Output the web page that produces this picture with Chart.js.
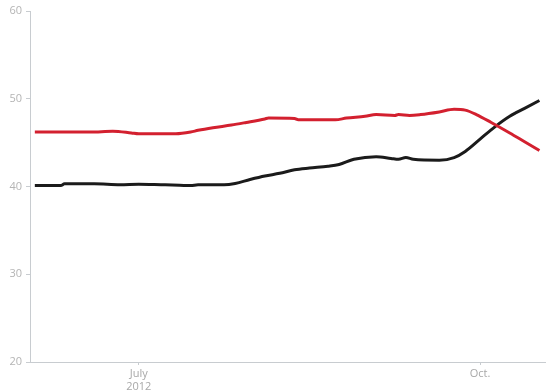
<!DOCTYPE html>
<html>
<head>
<meta charset="utf-8">
<script src="https://cdn.jsdelivr.net/npm/chart.js@4"></script>
<style>
  body { margin: 0; background: #fff; }
  #wrap { width: 550px; height: 390px; position: relative; }
</style>
</head>
<body>
<div id="wrap"><canvas id="pollChart"></canvas></div>
<script>
// days counted from June 1, 2012 (day 0)
const redDays = [2, 17, 23, 28, 30, 40, 44, 46, 50, 55, 59, 64, 65, 72, 73, 83, 86, 91, 94, 99, 100, 103, 106, 111, 115, 118, 121, 125, 130, 134, 138];
const redValues = [46.2, 46.2, 46.3, 46.1, 46.0, 46.0, 46.2, 46.4, 46.7, 47.0, 47.3, 47.7, 47.8, 47.75, 47.6, 47.6, 47.8, 48.0, 48.2, 48.1, 48.2, 48.1, 48.2, 48.5, 48.8, 48.7, 48.2, 47.3, 46.1, 45.1, 44.1];

const blackDays = [2, 9, 10, 18, 25, 30, 36, 41, 44, 46, 53, 56, 60, 64, 68, 72, 76, 81, 84, 88, 94, 98, 100, 102, 104, 111, 115, 118, 122, 126, 130, 134, 138];
const blackValues = [40.1, 40.1, 40.3, 40.3, 40.2, 40.25, 40.2, 40.15, 40.1, 40.2, 40.2, 40.35, 40.8, 41.2, 41.5, 41.9, 42.1, 42.3, 42.5, 43.1, 43.4, 43.2, 43.1, 43.3, 43.1, 43.0, 43.3, 44.0, 45.4, 46.8, 48.0, 48.9, 49.8];

const tickDays = [30, 122];
const tickLabels = [['July', '2012'], 'Oct.'];
const yTicks = [20, 30, 40, 50, 60];

const toPoints = (days, vals) => days.map((d, i) => ({ x: d, y: vals[i] }));

const ctx = document.getElementById('pollChart').getContext('2d');
const pollChart = new Chart(ctx, {
    type: 'line',
    data: {
        datasets: [{
            data: toPoints(redDays, redValues),
            borderColor: '#d3202f',
            borderWidth: 3,
            pointRadius: 0,
            cubicInterpolationMode: 'monotone',
            fill: false,
        }, {
            data: toPoints(blackDays, blackValues),
            borderColor: '#1b1b1b',
            borderWidth: 3,
            pointRadius: 0,
            cubicInterpolationMode: 'monotone',
            fill: false,
        }],
    },
    options: {
        responsive: true,
        maintainAspectRatio: false,
        animation: false,
        layout: { padding: { top: 11, right: 5, left: 0, bottom: 0 } },
        plugins: { legend: { display: false }, tooltip: { enabled: false } },
        scales: {
            x: {
                type: 'linear',
                min: 0.7,
                max: 139.5,
                afterBuildTicks: (scale) => {
                    scale.ticks = tickDays.map(v => ({ value: v }));
                },
                afterFit: (scale) => { scale.height = 28; },
                border: { color: '#c8ccd0', width: 1 },
                grid: { drawOnChartArea: false, drawTicks: true, tickLength: 3, color: '#c8ccd0' },
                ticks: {
                    autoSkip: false,
                    maxRotation: 0,
                    padding: 2,
                    color: '#a8a8a8',
                    font: { family: 'Open Sans', size: 11 },
                    callback: (value) => {
                        const i = tickDays.indexOf(value);
                        return i >= 0 ? tickLabels[i] : '';
                    },
                },
            },
            y: {
                min: 20,
                max: 60,
                afterBuildTicks: (scale) => {
                    scale.ticks = yTicks.map(v => ({ value: v }));
                },
                afterFit: (scale) => { scale.width = 30; },
                border: { color: '#c8ccd0', width: 1 },
                grid: { drawOnChartArea: false, drawTicks: true, tickLength: 4, color: '#c8ccd0' },
                ticks: {
                    padding: 4,
                    color: '#b4b4b4',
                    font: { family: 'Open Sans', size: 11 },
                },
            },
        },
    },
});
</script>
</body>
</html>
